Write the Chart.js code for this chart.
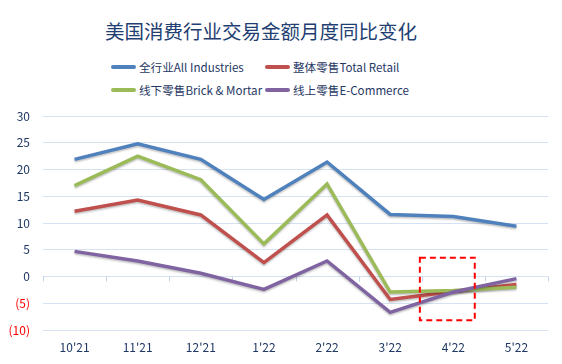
<!DOCTYPE html>
<html>
<head>
<meta charset="utf-8">
<script src="https://cdn.jsdelivr.net/npm/chart.js@4/dist/chart.umd.min.js"></script>
<style>
  body { margin: 0; background: #fff; }
  #wrap { position: relative; width: 562px; height: 364px; }
  #title { position: absolute; left: 0; top: 16px; width: 522px; padding-right: 40px; text-align: center;
    font: 19.5px "Noto Sans CJK SC", sans-serif; color: #1F3F73; }
  #legend { position: absolute; left: 111px; top: 58px; width: 420px;
    display: grid; grid-template-columns: 154px 200px; row-gap: 5px;
    font: 11.6px "Noto Sans CJK SC", sans-serif; color: #1F3864; }
  .item { display: flex; align-items: center; white-space: nowrap; height: 18px; }
  .swatch { width: 25px; height: 4px; border-radius: 2px; margin-right: 3px; }
  canvas { position: absolute; left: 0; top: 0; }
</style>
</head>
<body>
<div id="wrap">
  <div id="title">美国消费行业交易金额月度同比变化</div>
  <div id="legend"></div>
  <canvas id="myChart" width="562" height="364"></canvas>
</div>
<script>
// categorias del eje x
const months = ["10'21", "11'21", "12'21", "1'22", "2'22", "3'22", "4'22", "5'22"];

// series (% yoy)
const allIndustries = [21.9, 24.8, 21.9, 14.4, 21.4, 11.6, 11.2, 9.4];
const totalRetail = [12.2, 14.3, 11.5, 2.6, 11.5, -4.3, -2.8, -1.5];
const brickMortar = [17.0, 22.5, 18.1, 6.1, 17.3, -2.9, -2.6, -2.0];
const eCommerce = [4.7, 2.9, 0.6, -2.4, 2.9, -6.7, -2.9, -0.4];

const seriesNames = ['全行业All Industries', '整体零售Total Retail', '线下零售Brick & Mortar', '线上零售E-Commerce'];
const seriesColors = ['#4F81BD', '#C0504D', '#9BBB59', '#8064A2'];

// eje y
const yTicks = [-10, -5, 0, 5, 10, 15, 20, 25, 30];

// recuadro rojo punteado (en unidades de los ejes)
const highlightBox = { xMin: 5.47, xMax: 6.34, yMin: -8.2, yMax: 3.5 };

// leyenda en html, dos columnas como en la figura
const legendEl = document.getElementById('legend');
seriesNames.forEach((name, i) => {
  const div = document.createElement('div');
  div.className = 'item';
  div.innerHTML = '<span class="swatch" style="background:' + seriesColors[i] + '"></span>' + name;
  legendEl.appendChild(div);
});

// marcas pequeñas sobre la linea del cero + recuadro
const extrasPlugin = {
  id: 'extras',
  beforeDatasetsDraw(chart) {
    const { ctx, scales: { x, y } } = chart;
    const y0 = y.getPixelForValue(0);
    ctx.save();
    ctx.strokeStyle = '#C3D3E8';
    ctx.lineWidth = 1;
    ctx.beginPath();
    for (let i = 0; i <= months.length; i++) {
      const px = Math.round(x.getPixelForValue(i - 0.5)) + 0.5;
      ctx.moveTo(px, y0);
      ctx.lineTo(px, y0 + 5);
    }
    ctx.stroke();
    ctx.restore();
    // sombra suave de las lineas
    ctx.save();
    ctx.shadowColor = 'rgba(0,0,0,0.25)';
    ctx.shadowBlur = 2;
    ctx.shadowOffsetY = 1.5;
  },
  afterDatasetsDraw(chart) {
    const { ctx, scales: { x, y } } = chart;
    ctx.restore();
    const left = x.getPixelForValue(highlightBox.xMin);
    const right = x.getPixelForValue(highlightBox.xMax);
    const top = y.getPixelForValue(highlightBox.yMax);
    const bottom = y.getPixelForValue(highlightBox.yMin);
    ctx.save();
    ctx.strokeStyle = '#FF0000';
    ctx.lineWidth = 2;
    ctx.setLineDash([6, 4]);
    ctx.strokeRect(left, top, right - left, bottom - top);
    ctx.restore();
  }
};

const makeDataset = (i, data, order) => ({
  label: seriesNames[i],
  data: data,
  borderColor: seriesColors[i],
  backgroundColor: seriesColors[i],
  borderWidth: 3.5,
  pointRadius: 0,
  tension: 0,
  order: order,
});

new Chart(document.getElementById('myChart').getContext('2d'), {
  type: 'line',
  data: {
    labels: months,
    datasets: [
      makeDataset(0, allIndustries, 4),
      makeDataset(1, totalRetail, 3),
      makeDataset(2, brickMortar, 2),
      makeDataset(3, eCommerce, 1),
    ],
  },
  options: {
    responsive: false,
    animation: false,
    layout: { padding: { top: 116, right: 14, left: 0, bottom: 10 } },
    plugins: {
      legend: { display: false },
      tooltip: { enabled: false },
    },
    scales: {
      x: {
        offset: true,
        grid: { display: false },
        border: { display: false },
        afterFit: (axis) => { axis.height = 24; },
        ticks: {
          color: '#1F3864',
          font: { family: 'Noto Sans CJK SC', size: 12 },
          padding: 2,
          maxRotation: 0,
        },
      },
      y: {
        min: -10,
        max: 30,
        afterBuildTicks: (axis) => { axis.ticks = yTicks.map((v) => ({ value: v })); },
        afterFit: (axis) => { axis.width = 43; },
        grid: { color: '#D5E2F2', lineWidth: 1, drawTicks: false },
        border: { display: false },
        ticks: {
          padding: 13,
          color: (c) => (c.tick && c.tick.value < 0 ? '#FF0000' : '#1F3864'),
          font: { family: 'Noto Sans CJK SC', size: 12 },
          callback: (v) => (v < 0 ? '(' + (-v) + ')' : v),
        },
      },
    },
  },
  plugins: [extrasPlugin],
});
</script>
</body>
</html>
